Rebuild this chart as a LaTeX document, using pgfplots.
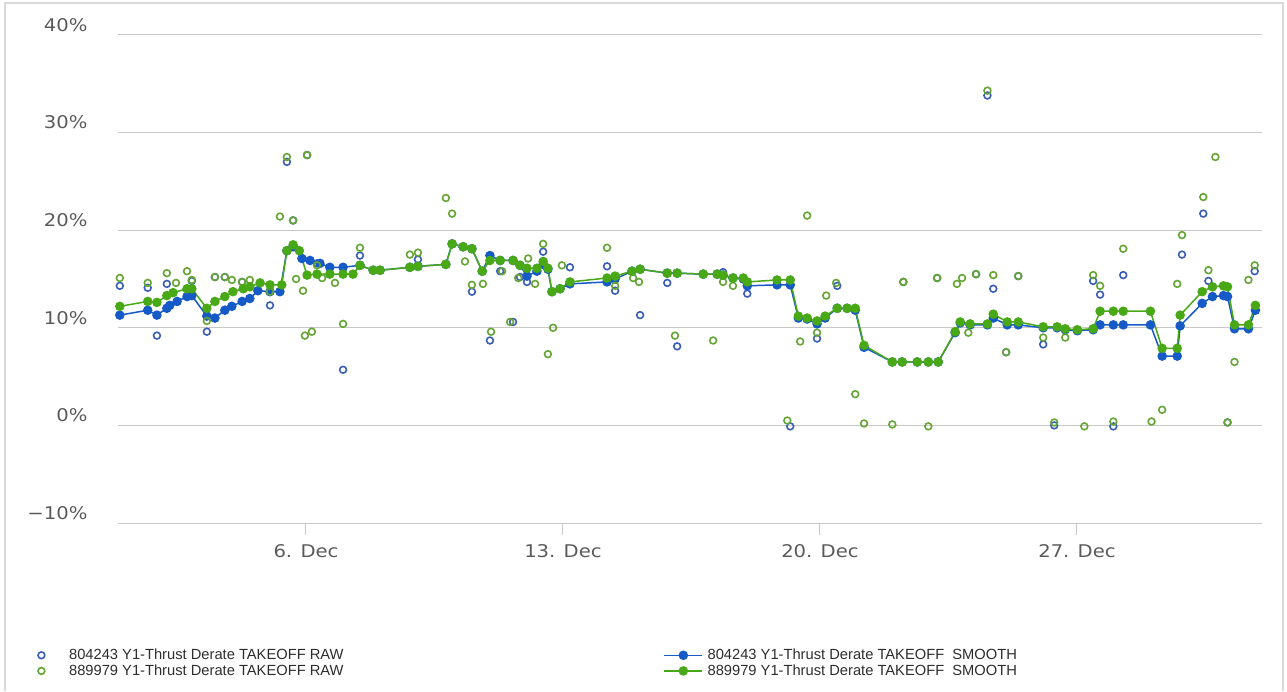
\documentclass[border=0pt]{standalone}
\usepackage{pgfplots}
\pgfplotsset{compat=1.18}
\usepackage{fontspec}
\setmainfont{DejaVu Sans}
\newfontfamily\tickfont[FakeStretch=1.12]{DejaVu Sans}
\newfontfamily\legfont{Liberation Sans}
\definecolor{smoothblue}{RGB}{22,90,200}
\definecolor{smoothgreen}{RGB}{72,168,22}
\definecolor{rawblue}{RGB}{58,94,184}
\definecolor{rawgreen}{RGB}{100,165,52}
\definecolor{gridgray}{RGB}{200,200,200}
\definecolor{ticktext}{RGB}{90,90,90}
\definecolor{legtext}{RGB}{45,45,45}
\pgfplotsset{
  rawleg/.style={legend image code/.code={\draw[##1] plot coordinates {(0pt,0pt)}; \path (-8pt,0pt) (25.5pt,0pt);}},
  smoothleg/.style={legend image code/.code={\draw[##1, mark repeat=2, mark phase=2] plot coordinates {(0pt,0pt) (19pt,0pt) (38pt,0pt)}; \path (40.5pt,0pt);}},
}
\begin{document}
\begin{tikzpicture}
\path[use as bounding box] (0,0) rectangle (1287pt,691pt);
\draw[gray!30, line width=1.2pt] (5pt,0pt) -- (5pt,688pt) -- (1283pt,688pt) -- (1283pt,0pt);
\begin{axis}[
  at={(118pt,168pt)}, anchor=south west,
  scale only axis, width=1144pt, height=488pt,
  xmin=0.88, xmax=32.04, ymin=-10, ymax=40,
  ytick={-10,0,10,20,30,40},
  yticklabels={−10\%,0\%,10\%,20\%,30\%,40\%},
  xtick={6,13,20,27},
  xticklabels={6. Dec,13. Dec,20. Dec,27. Dec},
  ymajorgrids, grid style={draw=gridgray, line width=1pt},
  axis line style={draw=none},
  xtick pos=lower, ytick pos=left,
  tick align=outside, major tick length=12pt,
  major x tick style={draw=gridgray, line width=1pt},
  major y tick style={draw=none},
  ticklabel style={font=\tickfont\fontsize{17.5}{20}\selectfont, text=ticktext},
  yticklabel style={anchor=east, xshift=-15pt, yshift=10pt},
  xticklabel style={anchor=north, yshift=-6pt},
  legend columns=2,
  legend cell align=left,
  legend style={at={(axis description cs:0,0)}, anchor=north west,
    xshift=-88pt, yshift=-122pt, draw=none, fill=none,
    font=\legfont\fontsize{14.7}{16}\selectfont, text=legtext,
    row sep=-0.5pt,
    /tikz/every even column/.append style={column sep=318pt}},
]
\addplot[only marks, mark=o, mark size=3.4pt, mark options={draw=rawblue, line width=1.6pt}, rawleg]
table {
0.93 14.3
1.69 14.1
1.94 9.2
2.21 14.5
2.89 14.8
3.30 9.6
3.52 15.2
3.79 15.2
4.26 14.7
5.02 12.3
5.48 27.0
5.65 21.0
6.03 27.7
6.30 16.6
7.01 5.7
7.47 17.4
9.05 17.0
10.52 13.7
11.01 8.7
11.29 15.8
11.64 10.6
11.83 15.2
12.02 14.7
12.46 17.8
13.19 16.2
14.20 16.3
14.42 13.8
15.10 11.3
15.84 14.6
16.11 8.1
17.36 15.7
18.02 13.5
19.19 -0.1
19.92 8.9
20.47 14.3
22.27 14.7
23.19 15.1
24.25 15.5
24.56 33.8
24.72 14.0
25.07 7.5
25.40 15.3
26.08 8.3
26.38 0.0
27.44 14.8
27.63 13.4
27.99 -0.1
28.26 15.4
29.86 17.5
30.44 21.7
30.58 14.8
31.10 0.3
31.84 15.8
};
\addlegendentry{804243 Y1-Thrust Derate TAKEOFF RAW}
\addplot[color=smoothblue, line width=1.5pt, mark=*, mark size=4pt,
  mark options={fill=smoothblue, draw=smoothblue}, smoothleg]
table {
0.93 11.3
1.69 11.8
1.94 11.3
2.21 12.0
2.29 12.3
2.49 12.7
2.76 13.2
2.89 13.3
3.30 11.2
3.52 11.0
3.79 11.8
3.98 12.2
4.26 12.7
4.47 13.0
4.69 13.8
5.02 13.7
5.29 13.7
5.48 17.9
5.65 18.3
5.89 17.1
6.11 16.9
6.38 16.6
6.65 16.2
7.01 16.2
7.47 16.4
7.83 15.9
8.02 15.9
8.83 16.2
9.05 16.3
9.81 16.5
9.98 18.6
10.28 18.3
10.52 18.1
10.80 15.8
11.01 17.4
11.29 16.9
11.64 16.9
11.83 16.4
12.02 15.3
12.29 15.8
12.46 16.5
12.59 16.0
12.70 13.7
12.92 14.0
13.19 14.5
14.20 14.7
14.42 15.0
14.88 15.8
15.10 16.0
15.84 15.6
16.11 15.6
16.82 15.5
17.20 15.5
17.36 15.4
17.63 15.1
17.91 15.0
18.02 14.3
18.83 14.4
19.19 14.4
19.41 11.0
19.65 10.9
19.92 10.4
20.14 11.0
20.47 12.0
20.74 12.0
20.96 11.8
21.20 8.0
21.97 6.5
22.24 6.5
22.65 6.5
22.95 6.5
23.22 6.5
23.68 9.5
23.82 10.5
24.09 10.3
24.56 10.3
24.72 11.0
25.10 10.3
25.40 10.3
26.08 10.0
26.46 10.0
26.68 9.8
27.01 9.7
27.44 9.8
27.63 10.3
27.99 10.3
28.26 10.3
29.00 10.3
29.32 7.1
29.73 7.1
29.81 10.2
30.41 12.5
30.69 13.2
30.99 13.3
31.10 13.2
31.29 9.9
31.67 9.9
31.86 11.8
};
\addlegendentry{804243 Y1-Thrust Derate TAKEOFF\ \ SMOOTH}
\addplot[only marks, mark=o, mark size=3.4pt, mark options={draw=rawgreen, line width=1.6pt}, rawleg]
table {
0.93 15.1
1.69 14.6
2.21 15.6
2.46 14.6
2.76 15.8
2.89 14.9
3.30 10.7
3.52 15.2
3.79 15.2
3.98 14.9
4.26 14.7
4.47 14.9
5.02 13.7
5.29 21.4
5.48 27.5
5.65 21.0
5.73 15.0
5.92 13.8
5.97 9.2
6.03 27.7
6.16 9.6
6.30 16.4
6.44 15.1
6.79 14.6
7.01 10.4
7.47 18.2
8.83 17.5
9.05 17.7
9.81 23.3
9.98 21.7
10.33 16.8
10.52 14.4
10.82 14.5
11.04 9.6
11.34 15.8
11.56 10.6
11.78 15.1
12.05 17.1
12.24 14.5
12.46 18.6
12.59 7.3
12.73 10.0
12.97 16.4
14.20 18.2
14.42 14.3
14.91 15.1
15.07 14.7
16.05 9.2
17.09 8.7
17.36 14.7
17.63 14.3
19.11 0.5
19.46 8.6
19.65 21.5
19.92 9.5
20.17 13.3
20.44 14.6
20.96 3.2
21.20 0.2
21.97 0.1
22.27 14.7
22.95 -0.1
23.19 15.1
23.73 14.5
23.87 15.1
24.04 9.5
24.25 15.5
24.56 34.3
24.72 15.4
25.07 7.5
25.40 15.3
26.08 9.0
26.38 0.3
26.68 9.0
27.20 -0.1
27.44 15.4
27.63 14.3
27.99 0.4
28.26 18.1
29.03 0.4
29.32 1.6
29.73 14.5
29.86 19.5
30.44 23.4
30.58 15.9
30.77 27.5
31.10 0.3
31.29 6.5
31.67 14.9
31.84 16.4
};
\addlegendentry{889979 Y1-Thrust Derate TAKEOFF RAW}
\addplot[color=smoothgreen, line width=1.5pt, mark=*, mark size=4pt,
  mark options={fill=smoothgreen, draw=smoothgreen}, smoothleg]
table {
0.93 12.2
1.69 12.7
1.94 12.6
2.21 13.3
2.38 13.6
2.76 14.0
2.89 14.0
3.30 12.0
3.52 12.7
3.79 13.2
4.01 13.7
4.29 14.0
4.47 14.2
4.75 14.6
5.02 14.4
5.34 14.4
5.48 17.9
5.65 18.5
5.82 17.9
6.03 15.4
6.30 15.5
6.65 15.5
7.01 15.5
7.28 15.5
7.47 16.4
7.83 15.9
8.02 15.9
8.83 16.2
9.05 16.3
9.81 16.5
9.98 18.6
10.28 18.3
10.52 18.1
10.80 15.8
11.01 16.9
11.29 16.9
11.64 16.9
11.83 16.4
12.02 16.1
12.29 16.1
12.46 16.8
12.59 16.1
12.70 13.7
12.92 14.0
13.19 14.7
14.20 15.1
14.42 15.3
14.88 15.8
15.10 16.0
15.84 15.6
16.11 15.6
16.82 15.5
17.20 15.5
17.36 15.4
17.63 15.1
17.91 15.1
18.02 14.7
18.83 14.9
19.19 14.9
19.41 11.2
19.65 11.0
19.92 10.7
20.14 11.2
20.47 12.0
20.74 12.0
20.96 12.0
21.20 8.2
21.97 6.5
22.24 6.5
22.65 6.5
22.95 6.5
23.22 6.5
23.68 9.6
23.82 10.6
24.09 10.4
24.56 10.4
24.72 11.4
25.10 10.6
25.40 10.6
26.08 10.1
26.46 10.1
26.68 9.9
27.01 9.8
27.44 9.9
27.63 11.7
27.99 11.7
28.26 11.7
29.00 11.7
29.32 7.9
29.73 7.9
29.81 11.3
30.41 13.7
30.69 14.2
30.99 14.3
31.10 14.2
31.29 10.3
31.67 10.3
31.86 12.3
};
\addlegendentry{889979 Y1-Thrust Derate TAKEOFF\ \ SMOOTH}
\end{axis}
\end{tikzpicture}
\end{document}
